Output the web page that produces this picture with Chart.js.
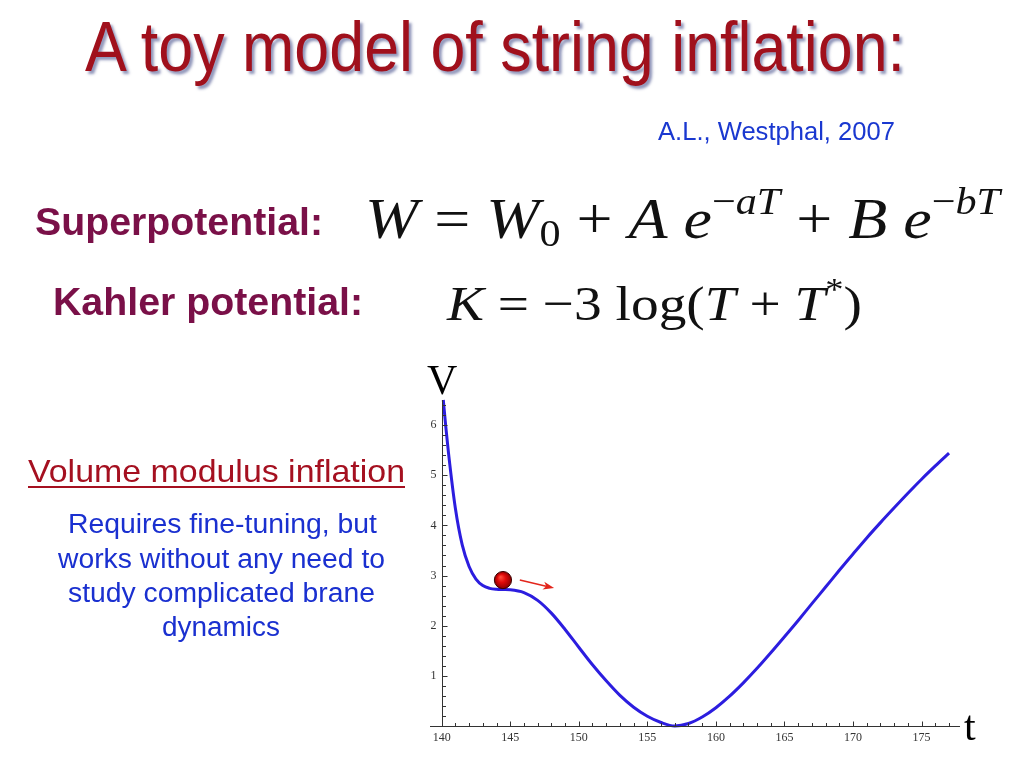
<!DOCTYPE html>
<html>
<head>
<meta charset="utf-8">
<script src="https://cdn.jsdelivr.net/npm/chart.js@4/dist/chart.umd.min.js"></script>
<style>
  html, body { margin:0; padding:0; background:#fff; }
  #page { position:relative; width:1024px; height:768px; overflow:hidden; background:#fff; }
  #chartBox { position:absolute; left:0; top:0; width:1024px; height:768px; }
  .t { position:absolute; white-space:nowrap; line-height:1; transform-origin:0 0; }
  .sans { font-family:"Liberation Sans", Arial, sans-serif; }
  .serif { font-family:"Liberation Serif", "Times New Roman", serif; }
  sub, sup { line-height:0; font-size:0.66em; position:relative; vertical-align:baseline; }
  sub { top:0.22em; }
  sup { top:-0.62em; }
</style>
</head>
<body>
<div id="page">
  <div id="chartBox"><canvas id="c"></canvas></div>

  <div class="t sans" data-w="820" style="left:85px; top:12px; font-size:70px; color:#a0101c; text-shadow:3px 3px 3px rgba(70,80,140,0.6);">A toy model of string inflation:</div>
  <div class="t sans" data-w="237" style="left:658px; top:119px; font-size:25px; color:#1a38d0;">A.L., Westphal, 2007</div>

  <div class="t sans" data-w="288" style="left:35px; top:202px; font-size:39.5px; font-weight:bold; color:#7a1048;">Superpotential:</div>
  <div class="t sans" data-w="310" style="left:53px; top:282px; font-size:39.5px; font-weight:bold; color:#7a1048;">Kahler potential:</div>

  <div class="t serif" data-w="635" style="left:365px; top:190px; font-size:58px; color:#111;"><i>W</i> = <i>W</i><sub>0</sub> + <i>A</i> <i>e</i><sup>−<i>aT</i></sup> + <i>B</i> <i>e</i><sup>−<i>bT</i></sup></div>
  <div class="t serif" data-w="415" style="left:447px; top:279px; font-size:49px; color:#111;"><i>K</i> = −3 log(<i>T</i> + <i>T</i><sup>*</sup>)</div>

  <div class="t sans" data-w="377" style="left:28px; top:455px; font-size:32px; color:#a51020; text-decoration:underline; text-decoration-thickness:2px; text-underline-offset:4px;">Volume modulus inflation</div>

  <div class="t sans" data-w="309" style="left:68px; top:511px; font-size:27px; color:#1a30d0;">Requires fine-tuning, but</div>
  <div class="t sans" data-w="327" style="left:58px; top:546px; font-size:27px; color:#1a30d0;">works without any need to</div>
  <div class="t sans" data-w="307" style="left:68px; top:580px; font-size:27px; color:#1a30d0;">study complicated brane</div>
  <div class="t sans" data-w="118" style="left:162px; top:614px; font-size:27px; color:#1a30d0;">dynamics</div>

  <div class="t serif" style="left:427px; top:359px; font-size:42px; color:#000;">V</div>
  <div class="t serif" style="left:964px; top:705px; font-size:42px; color:#000;">t</div>
</div>

<script>
// ---- data ----
const tValues = [140.12, 140.3, 140.5, 141, 141.5, 142, 142.5, 143, 143.5, 144, 144.5, 145, 146, 147, 148, 149, 150, 151, 152, 153, 154, 155, 156, 157, 158, 159, 160, 161, 162, 163, 164, 165, 166, 167, 168, 169, 170, 171, 172, 173, 174, 175, 176, 177];
const vValues = [6.5, 5.97, 5.44, 4.34, 3.61, 3.18, 2.93, 2.80, 2.745, 2.725, 2.72, 2.715, 2.66, 2.505, 2.25, 1.925, 1.57, 1.22, 0.90, 0.61, 0.375, 0.195, 0.07, 0.0, 0.05, 0.18, 0.365, 0.595, 0.86, 1.15, 1.46, 1.78, 2.105, 2.44, 2.77, 3.105, 3.43, 3.75, 4.055, 4.35, 4.64, 4.92, 5.185, 5.44];
const xTickLabels = [140, 145, 150, 155, 160, 165, 170, 175];
const yTickLabels = [1, 2, 3, 4, 5, 6];
const xMinorTicks = [140, 141, 142, 143, 144, 145, 146, 147, 148, 149, 150, 151, 152, 153, 154, 155, 156, 157, 158, 159, 160, 161, 162, 163, 164, 165, 166, 167, 168, 169, 170, 171, 172, 173, 174, 175, 176, 177];
const yMinorTicks = [0.2, 0.4, 0.6, 0.8, 1, 1.2, 1.4, 1.6, 1.8, 2, 2.2, 2.4, 2.6, 2.8, 3, 3.2, 3.4, 3.6, 3.8, 4, 4.2, 4.4, 4.6, 4.8, 5, 5.2, 5.4, 5.6, 5.8, 6, 6.2, 6.4];
const ballPoint = [144.47, 2.91];
const arrowFrom = [145.7, 2.91];
const arrowTo = [148.2, 2.75];

// fit text widths
document.querySelectorAll('.t[data-w]').forEach(el => {
  const w = el.getBoundingClientRect().width;
  const target = +el.dataset.w;
  el.style.transform = 'scaleX(' + (target / w) + ')';
});

const decor = {
  id: 'decor',
  afterDatasetsDraw(chart) {
    const {ctx, scales: {x, y}} = chart;
    ctx.save();
    ctx.strokeStyle = '#333';
    ctx.lineWidth = 1;
    const y0 = Math.round(y.getPixelForValue(0)) + 0.5;
    const x0 = Math.round(x.getPixelForValue(140)) + 0.5;
    ctx.beginPath();
    ctx.moveTo(x.getPixelForValue(x.min), y0);
    ctx.lineTo(x.getPixelForValue(x.max), y0);
    ctx.moveTo(x0, y0);
    ctx.lineTo(x0, y.getPixelForValue(y.max));
    ctx.stroke();
    ctx.beginPath();
    xMinorTicks.forEach(v => {
      const px = Math.round(x.getPixelForValue(v)) + 0.5;
      const len = (v % 5 === 0) ? 5 : 3.5;
      ctx.moveTo(px, y0);
      ctx.lineTo(px, y0 - len);
    });
    yMinorTicks.forEach(v => {
      const py = Math.round(y.getPixelForValue(v)) + 0.5;
      const len = (Math.abs(v - Math.round(v)) < 1e-6) ? 5 : 3.5;
      ctx.moveTo(x0, py);
      ctx.lineTo(x0 + len, py);
    });
    ctx.stroke();

    // y tick labels
    ctx.fillStyle = '#333';
    ctx.font = '12px "Liberation Serif"';
    ctx.textAlign = 'right';
    ctx.textBaseline = 'middle';
    yTickLabels.forEach(v => {
      ctx.fillText(String(v), x0 - 6, y.getPixelForValue(v));
    });

    // arrow
    const ax1 = x.getPixelForValue(arrowFrom[0]), ay1 = y.getPixelForValue(arrowFrom[1]);
    const ax2 = x.getPixelForValue(arrowTo[0]), ay2 = y.getPixelForValue(arrowTo[1]);
    const ang = Math.atan2(ay2 - ay1, ax2 - ax1);
    const c = Math.cos(ang), s = Math.sin(ang);
    ctx.strokeStyle = '#e3261c';
    ctx.fillStyle = '#e3261c';
    ctx.lineWidth = 1.6;
    ctx.beginPath();
    ctx.moveTo(ax1, ay1);
    ctx.lineTo(ax2 - 6 * c, ay2 - 6 * s);
    ctx.stroke();
    ctx.beginPath();
    ctx.moveTo(ax2, ay2);
    ctx.lineTo(ax2 - 11 * c + 4 * s, ay2 - 11 * s - 4 * c);
    ctx.lineTo(ax2 - 8 * c, ay2 - 8 * s);
    ctx.lineTo(ax2 - 11 * c - 4 * s, ay2 - 11 * s + 4 * c);
    ctx.closePath();
    ctx.fill();

    // ball
    const bx = x.getPixelForValue(ballPoint[0]), by = y.getPixelForValue(ballPoint[1]);
    const r = 8.6;
    const g = ctx.createRadialGradient(bx - 2.5, by - 3, 0.5, bx, by, r);
    g.addColorStop(0, '#ff4a3a');
    g.addColorStop(0.45, '#e00a0a');
    g.addColorStop(1, '#8a0000');
    ctx.fillStyle = g;
    ctx.beginPath();
    ctx.arc(bx, by, r, 0, Math.PI * 2);
    ctx.fill();
    ctx.strokeStyle = '#3a0000';
    ctx.lineWidth = 1;
    ctx.stroke();
    ctx.restore();
  }
};

new Chart(document.getElementById('c'), {
  type: 'line',
  data: {
    datasets: [{
      data: tValues.map((t, i) => ({x: t, y: vValues[i]})),
      borderColor: '#2c1ddf',
      borderWidth: 3,
      pointRadius: 0,
      fill: false,
      cubicInterpolationMode: 'monotone',
      clip: 4
    }]
  },
  options: {
    responsive: true,
    maintainAspectRatio: false,
    animation: false,
    events: [],
    layout: { padding: { left: 430, right: 64, top: 400, bottom: 42 } },
    plugins: { legend: { display: false }, tooltip: { enabled: false } },
    scales: {
      x: {
        type: 'linear',
        min: 139.15,
        max: 177.8,
        position: { y: 0 },
        grid: { display: false, drawTicks: false },
        border: { display: false },
        afterBuildTicks: s => { s.ticks = xTickLabels.map(v => ({value: v})); },
        ticks: {
          padding: 5,
          maxRotation: 0,
          autoSkip: false,
          color: '#333',
          font: { family: 'Liberation Serif', size: 12 },
          callback: v => String(v)
        }
      },
      y: {
        type: 'linear',
        min: 0,
        max: 6.5,
        position: { x: 140 },
        grid: { display: false, drawTicks: false },
        border: { display: false },
        afterBuildTicks: s => { s.ticks = yTickLabels.map(v => ({value: v})); },
        ticks: { display: false }
      }
    }
  },
  plugins: [decor]
});
</script>
</body>
</html>
